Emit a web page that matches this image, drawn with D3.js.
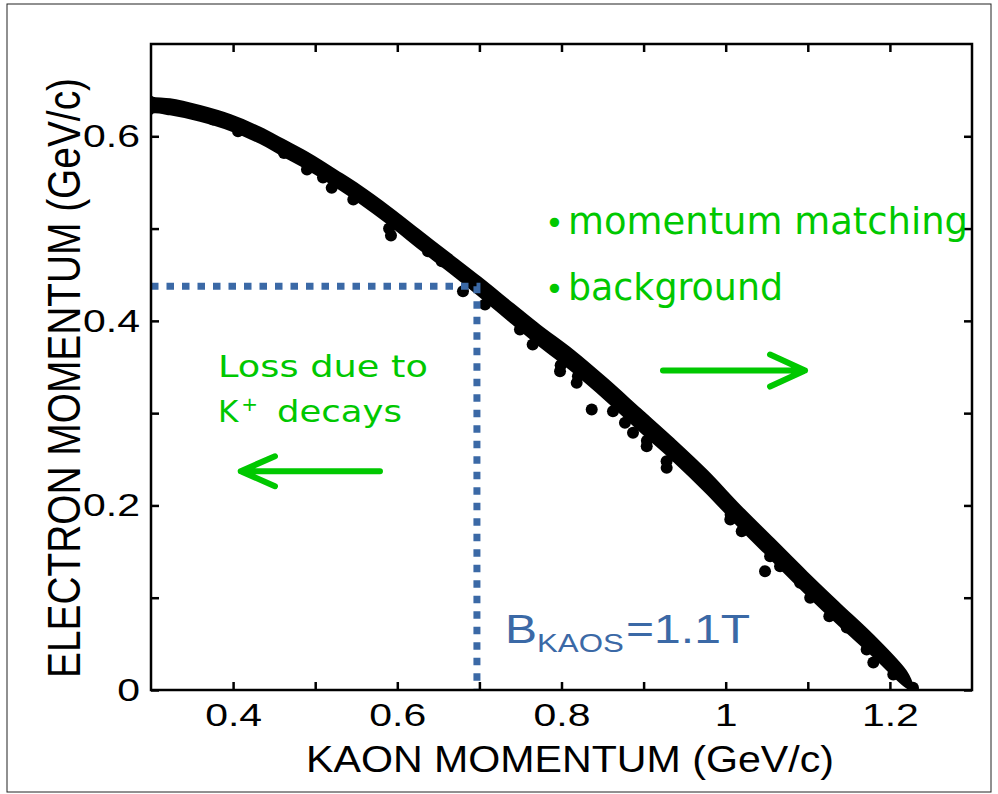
<!DOCTYPE html>
<html>
<head>
<meta charset="utf-8">
<script src="https://cdn.jsdelivr.net/npm/d3@7"></script>
<style>
  body { margin: 0; background: #fff; }
  svg { display: block; }
</style>
</head>
<body>
<div id="chart"></div>
<script>
'use strict'

// axis ticks
const xTicks = [0.4, 0.5, 0.6, 0.7, 0.8, 0.9, 1.0, 1.1, 1.2]
const xTickLabels = ['0.4', '', '0.6', '', '0.8', '', '1', '', '1.2']
const yTicks = [0, 0.1, 0.2, 0.3, 0.4, 0.5, 0.6]
const yTickLabels = ['0', '', '0.2', '', '0.4', '', '0.6']

// main band of events (kaon momentum vs electron momentum), upper and lower edge
const bandKaon  = [0.300, 0.3024, 0.3231, 0.3597, 0.3962, 0.4328, 0.4608, 0.4937, 0.5262, 0.5546, 0.5911, 0.6276, 0.6642, 0.7007,
                   0.7409, 0.7738, 0.8144, 0.8551, 0.8956, 0.9362, 0.9769, 1.0174, 1.0580, 1.0987, 1.1390, 1.1798, 1.2205, 1.2280]
const bandUpper = [0.643, 0.6416, 0.6398, 0.6325, 0.6228, 0.6091, 0.5960, 0.5802, 0.5621, 0.5458, 0.5224, 0.4971, 0.4718, 0.4466,
                   0.4177, 0.3942, 0.3671, 0.3364, 0.3039, 0.2714, 0.2371, 0.1991, 0.1631, 0.1270, 0.0926, 0.0583, 0.0186, 0.0030]
const bandLower = [0.624, 0.626, 0.624, 0.617, 0.607, 0.593, 0.579, 0.563, 0.545, 0.528, 0.504, 0.478, 0.453, 0.427,
                   0.397, 0.373, 0.345, 0.314, 0.281, 0.249, 0.214, 0.176, 0.140, 0.104, 0.070, 0.037, 0.003, 0.0005]

// scattered events hanging below the band
const scatterKaon     = [0.3110, 0.3755, 0.4060, 0.4620, 0.4900, 0.5095, 0.5201, 0.5464, 0.5900, 0.5923, 0.6374, 0.6541, 0.6800,
                         0.7068, 0.7494, 0.7649, 0.7990, 0.7982, 0.8200, 0.8185, 0.8368, 0.8627, 0.8773, 0.8871, 0.9040, 0.9038,
                         0.9280, 0.9281, 1.0060, 1.0056, 1.0195, 1.0479, 1.0541, 1.0662, 1.0906, 1.1029, 1.1262, 1.1474, 1.1717,
                         1.1798, 1.2041, 1.2281]
const scatterElectron = [0.6316, 0.6181, 0.6054, 0.5820, 0.5640, 0.5553, 0.5441, 0.5314, 0.5000, 0.4924, 0.4754, 0.4646, 0.4321,
                         0.4177, 0.3906, 0.3743, 0.3520, 0.3454, 0.3400, 0.3328, 0.3039, 0.3021, 0.2895, 0.2787, 0.2700, 0.2641,
                         0.2480, 0.2407, 0.1900, 0.1847, 0.1720, 0.1287, 0.1450, 0.1341, 0.1161, 0.0999, 0.0800, 0.0677, 0.0439,
                         0.0298, 0.0168, 0.0024]

// magnet setting cut
const cutKaon = 0.697
const cutElectron = 0.4375

const green = '#00c800'
const blue = '#3b69a6'

const width = 998, height = 794
const plot = {left: 151, top: 44, right: 972, bottom: 690}

const x = d3.scaleLinear().domain([0.3, 1.3]).range([plot.left, plot.right])
const y = d3.scaleLinear().domain([0, 0.7]).range([plot.bottom, plot.top])

const svg = d3.select('#chart').append('svg')
  .attr('width', width)
  .attr('height', height)

svg.append('rect').attr('width', width).attr('height', height).attr('fill', '#fff')

// thin outer border
svg.append('rect')
  .attr('x', 7).attr('y', 4)
  .attr('width', 984).attr('height', 788)
  .attr('fill', 'none')
  .attr('stroke', '#222')
  .attr('stroke-width', 1)

svg.append('clipPath').attr('id', 'plot-clip')
  .append('rect')
  .attr('x', plot.left).attr('y', plot.top)
  .attr('width', plot.right - plot.left).attr('height', plot.bottom - plot.top)

const graphic = svg.append('g').attr('clip-path', 'url(#plot-clip)')

// band
const bandData = bandKaon.map((k, i) => ({k: k, hi: bandUpper[i], lo: bandLower[i]}))
const area = d3.area()
  .x(d => x(d.k))
  .y0(d => y(d.lo))
  .y1(d => y(d.hi))
  .curve(d3.curveCatmullRom)

graphic.append('path')
  .datum(bandData)
  .attr('d', area)
  .attr('fill', '#000')
  .attr('stroke', '#000')
  .attr('stroke-width', 2.5)
  .attr('stroke-linejoin', 'round')

graphic.selectAll('circle.ev')
  .data(scatterKaon.map((k, i) => ({k: k, e: scatterElectron[i]})))
  .join('circle')
    .attr('class', 'ev')
    .attr('cx', d => x(d.k))
    .attr('cy', d => y(d.e))
    .attr('r', 6)
    .attr('fill', '#000')

// dotted cut lines
svg.append('path')
  .attr('d', d3.line()([[x(0.3), y(cutElectron)], [x(cutKaon), y(cutElectron)], [x(cutKaon), y(0)]]))
  .attr('fill', 'none')
  .attr('stroke', blue)
  .attr('stroke-width', 7)
  .attr('stroke-dasharray', '7.5 8')

// axes, ticks inward on all four sides
function styleAxis(g) {
  g.select('.domain').remove()
  g.selectAll('line').attr('stroke', '#000').attr('stroke-width', 2.5)
  g.selectAll('text')
    .attr('fill', '#000')
    .style('font-family', '"Liberation Sans", Arial, sans-serif')
    .style('font-size', '32px')
}

svg.append('g')
  .attr('transform', `translate(0,${plot.bottom})`)
  .call(d3.axisBottom(x).tickValues(xTicks).tickFormat((d, i) => xTickLabels[i])
    .tickSizeInner(-8).tickSizeOuter(0).tickPadding(13))
  .call(styleAxis)
  .call(g => g.selectAll('text').attr('transform', 'scale(1.28,1)'))

svg.append('g')
  .attr('transform', `translate(0,${plot.top})`)
  .call(d3.axisTop(x).tickValues(xTicks).tickFormat('').tickSizeInner(-8).tickSizeOuter(0))
  .call(styleAxis)

svg.append('g')
  .attr('transform', `translate(${plot.left},0)`)
  .call(d3.axisLeft(y).tickValues(yTicks).tickFormat((d, i) => yTickLabels[i])
    .tickSizeInner(-8).tickSizeOuter(0).tickPadding(11))
  .call(styleAxis)
  .call(g => g.selectAll('text').attr('x', 0).attr('transform', 'translate(-11,0) scale(1.28,1)'))

svg.append('g')
  .attr('transform', `translate(${plot.right},0)`)
  .call(d3.axisRight(y).tickValues(yTicks).tickFormat('').tickSizeInner(-8).tickSizeOuter(0))
  .call(styleAxis)

// frame
svg.append('rect')
  .attr('x', plot.left).attr('y', plot.top)
  .attr('width', plot.right - plot.left).attr('height', plot.bottom - plot.top)
  .attr('fill', 'none')
  .attr('stroke', '#000')
  .attr('stroke-width', 2.5)

// axis titles
svg.append('text')
  .attr('x', 570).attr('y', 772)
  .attr('text-anchor', 'middle')
  .attr('textLength', 528).attr('lengthAdjust', 'spacingAndGlyphs')
  .style('font-family', '"Liberation Sans", Arial, sans-serif')
  .style('font-size', '36px')
  .text('KAON MOMENTUM (GeV/c)')

svg.append('text')
  .attr('transform', 'translate(80,378) scale(1.18,1) rotate(-90)')
  .attr('text-anchor', 'middle')
  .attr('textLength', 600).attr('lengthAdjust', 'spacingAndGlyphs')
  .style('font-family', '"Liberation Sans", Arial, sans-serif')
  .style('font-size', '39px')
  .text('ELECTRON MOMENTUM (GeV/c)')

// green annotations
const greenFont = '"DejaVu Sans", Verdana, sans-serif'

const bullets = [
  {k: 0.7848, e: 0.4945, text: 'momentum matching', len: 400},
  {k: 0.7848, e: 0.4231, text: 'background', len: 215}
]
bullets.forEach(b => {
  svg.append('text')
    .attr('x', x(b.k) - 4).attr('y', y(b.e))
    .attr('fill', green)
    .style('font-family', greenFont).style('font-size', '32px')
    .text('•')
  svg.append('text')
    .attr('x', x(b.k) + 19).attr('y', y(b.e))
    .attr('textLength', b.len).attr('lengthAdjust', 'spacingAndGlyphs')
    .attr('fill', green)
    .style('font-family', greenFont).style('font-size', '38px')
    .text(b.text)
})

svg.append('text')
  .attr('x', x(0.3816)).attr('y', y(0.3397))
  .attr('textLength', 210).attr('lengthAdjust', 'spacingAndGlyphs')
  .attr('fill', green)
  .style('font-family', greenFont).style('font-size', '31px')
  .text('Loss due to')

const kdec = svg.append('text')
  .attr('x', x(0.3816)).attr('y', y(0.2909))
  .attr('fill', green)
  .style('font-family', greenFont).style('font-size', '31px')
kdec.append('tspan').text('K')
kdec.append('tspan').attr('dx', 3).attr('dy', -11).style('font-size', '20px').text('+')
kdec.append('tspan').attr('x', x(0.3816) + 59).attr('dy', 11)
  .attr('textLength', 125).attr('lengthAdjust', 'spacingAndGlyphs')
  .text('decays')

// arrows: shaft tail -> tip, plus two head barbs
const arrows = [
  {tail: [0.5789, 0.2371], tip: [0.4093, 0.2371], barbs: [[0.4510, 0.2533], [0.4510, 0.2208]]},
  {tail: [0.9236, 0.3462], tip: [1.0966, 0.3462], barbs: [[1.0540, 0.3635], [1.0540, 0.3288]]}
]
const line = d3.line().x(d => x(d[0])).y(d => y(d[1]))
arrows.forEach(a => {
  svg.append('path')
    .attr('d', line([a.tail, a.tip]) + line([a.barbs[0], a.tip, a.barbs[1]]))
    .attr('fill', 'none')
    .attr('stroke', green)
    .attr('stroke-width', 6)
    .attr('stroke-linecap', 'round')
    .attr('stroke-linejoin', 'round')
})

// magnet label
const bl = svg.append('text')
  .attr('transform', `translate(${x(0.7312)},${y(0.0504)}) scale(1.2,1)`)
  .attr('fill', blue)
  .style('font-family', '"Liberation Sans", Arial, sans-serif')
  .style('font-size', '40px')
bl.append('tspan').text('B')
bl.append('tspan').attr('dy', 9).style('font-size', '26px').text('KAOS')
bl.append('tspan').attr('dx', 2).attr('dy', -9).text('=1.1T')
</script>
</body>
</html>
